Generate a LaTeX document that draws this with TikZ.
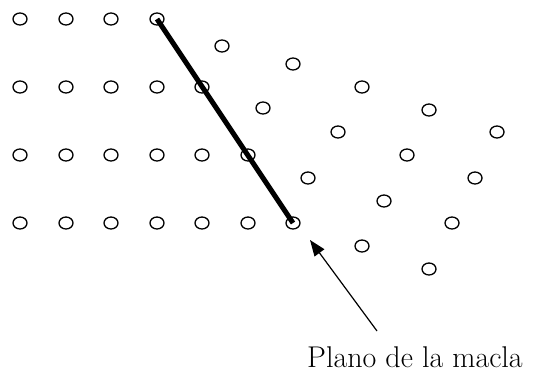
\documentclass[tikz,border=0pt]{standalone}
\usetikzlibrary{shapes.geometric,arrows.meta}
\begin{document}
\begin{tikzpicture}[x=1pt,y=-1pt,
  atom/.style={draw,ellipse,line width=1.3pt,minimum width=14pt,minimum height=12pt,inner sep=0pt},
  plane/.style={line width=5pt},
  pointer/.style={line width=1.2pt,-{Triangle[length=16pt,width=12pt]}},
  lbl/.style={font=\fontsize{30}{34}\selectfont,inner sep=0pt}]
\useasboundingbox (0,0) rectangle (534,372);
% left (parent) lattice
\foreach \i/\x in {1/20,2/66,3/111,4/157}{\node[atom] (a1\i) at (\x,19) {};}
\foreach \i/\x in {1/20,2/66,3/111,4/157,5/202}{\node[atom] (a2\i) at (\x,87) {};}
\foreach \i/\x in {1/20,2/66,3/111,4/157,5/202,6/248}{\node[atom] (a3\i) at (\x,155) {};}
\foreach \i/\x in {1/20,2/66,3/111,4/157,5/202,6/248,7/293}{\node[atom] (a4\i) at (\x,223) {};}
% twinned lattice
\node[atom] (t11) at (222,46) {};
\node[atom] (t12) at (293,64) {};
\node[atom] (t13) at (362,87) {};
\node[atom] (t14) at (429,110) {};
\node[atom] (t15) at (497,132) {};
\node[atom] (t21) at (263,108) {};
\node[atom] (t22) at (338,132) {};
\node[atom] (t23) at (407,155) {};
\node[atom] (t24) at (475,178) {};
\node[atom] (t31) at (308,178) {};
\node[atom] (t32) at (384,201) {};
\node[atom] (t33) at (452,223) {};
\node[atom] (t41) at (362,246) {};
\node[atom] (t42) at (429,269) {};
% twin plane
\draw[plane] (a14.center) -- (a47.center);
% label and arrow
\node[lbl,anchor=base west] (label) at (307,367) {Plano de la macla};
\coordinate (tail) at (377,331);
\coordinate (tip) at (310,240);
\draw[pointer] (tail) -- (tip);
\end{tikzpicture}
\end{document}
